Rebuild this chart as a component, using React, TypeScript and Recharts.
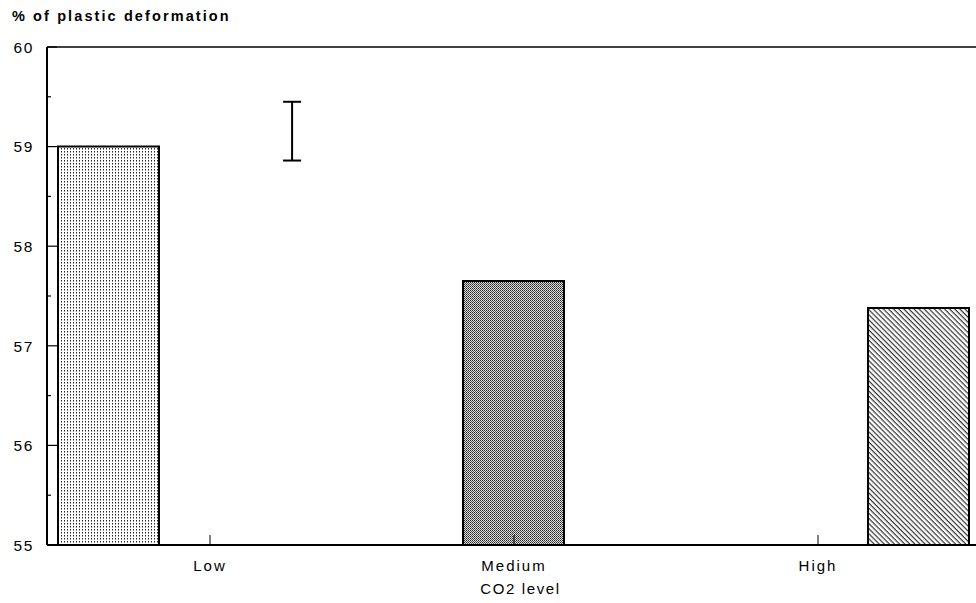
import React from 'react';
import {
  ComposedChart,
  Bar,
  XAxis,
  YAxis,
  Scatter,
  ErrorBar,
  ReferenceLine,
  Label,
} from 'recharts';

// CO2 levels on the category axis
const categories = ['Low', 'Medium', 'High'];
// Mean % of plastic deformation for each CO2 level
const deformation = [59.0, 57.65, 57.38];
// Series keys: each level is drawn in its own slot of the grouped layout
const seriesKeys = ['low', 'medium', 'high'];
const seriesFills = ['url(#dotFill)', 'url(#checkFill)', 'url(#hatchFill)'];

// Y axis: labelled whole values plus unlabelled half-unit minor ticks
const yMajorTicks = [55, 56, 57, 58, 59, 60];
const yMinorTicks = [55.5, 56.5, 57.5, 58.5, 59.5];

// Least-significant-difference bar (centre, half length, position in category units)
const lsdBar = [{ pos: 0.77, mid: 59.155, err: 0.295 }];

const rows = categories.map((level, i) => {
  const row: Record<string, string | number | null> = { level };
  seriesKeys.forEach((k, j) => {
    row[k] = i === j ? deformation[i] : null;
  });
  return row;
});

const yTicks = [...yMajorTicks, ...yMinorTicks].sort((a, b) => a - b);

const FONT = '"Liberation Sans", Arial, Helvetica, sans-serif';

const YTick = (props: any) => {
  const { x, y, payload } = props;
  const major = yMajorTicks.includes(payload.value);
  return (
    <g>
      <line x1={x} y1={y} x2={x + (major ? 10 : 4)} y2={y} stroke="#000" strokeWidth={1.2} />
      {major && (
        <text
          x={x - 13}
          y={y}
          dy="0.37em"
          textAnchor="end"
          fontFamily={FONT}
          fontSize={15.5}
          letterSpacing={1.6}
          fill="#000"
        >
          {payload.value}
        </text>
      )}
    </g>
  );
};

const XTick = (props: any) => {
  const { x, y, payload } = props;
  return (
    <g>
      <line x1={x} y1={y} x2={x} y2={y - 10} stroke="#000" strokeWidth={1} />
      <text
        x={x}
        y={y + 26}
        textAnchor="middle"
        fontFamily={FONT}
        fontSize={15}
        letterSpacing={2}
        fill="#000"
      >
        {payload.value}
      </text>
    </g>
  );
};

const NoPoint = () => <g />;

export default function App() {
  return (
    <div style={{ position: 'absolute', left: 0, top: 0, width: 976, height: 603, background: '#fff' }}>
      <div
        style={{
          position: 'absolute',
          left: 12,
          top: 8,
          fontFamily: FONT,
          fontWeight: 'bold',
          fontSize: 14.5,
          letterSpacing: 2.1,
          color: '#000',
          whiteSpace: 'nowrap',
        }}
      >
        % of plastic deformation
      </div>
      <ComposedChart
        width={976}
        height={603}
        data={rows}
        margin={{ top: 47, right: 0, bottom: 0, left: 0 }}
        barGap={0}
        barCategoryGap={0}
      >
        <defs>
          <pattern id="dotFill" width="3" height="3" patternUnits="userSpaceOnUse">
            <rect width="3" height="3" fill="#fff" />
            <rect x="1" y="1" width="1" height="1.5" fill="#222" />
          </pattern>
          <pattern id="checkFill" width="2" height="2" patternUnits="userSpaceOnUse">
            <rect width="2" height="2" fill="#ddd" />
            <rect x="0" y="0" width="1" height="1" fill="#222" />
            <rect x="1" y="1" width="1" height="1" fill="#555" />
          </pattern>
          <pattern
            id="hatchFill"
            width="4"
            height="3.6"
            patternUnits="userSpaceOnUse"
            patternTransform="rotate(45)"
          >
            <rect width="4" height="3.6" fill="#fff" />
            <rect x="0" y="0" width="4" height="1.2" fill="#333" />
          </pattern>
        </defs>
        <XAxis
          dataKey="level"
          type="category"
          padding={{ left: 11, right: 6 }}
          height={58}
          tickSize={0}
          tickMargin={0}
          tickLine={false}
          axisLine={{ stroke: '#000', strokeWidth: 2 }}
          tick={<XTick />}
          interval={0}
        >
          <Label
            value="CO2 level"
            position="insideBottom"
            offset={9}
            dx={9}
            fontFamily={FONT}
            fontSize={15}
            letterSpacing={1.6}
            fill="#000"
          />
        </XAxis>
        <XAxis
          xAxisId="lsd"
          dataKey="pos"
          type="number"
          domain={[0, 3]}
          allowDataOverflow
          padding={{ left: 11, right: 6 }}
          hide
        />
        <YAxis
          type="number"
          domain={[55, 60]}
          ticks={yTicks}
          allowDataOverflow
          width={47}
          tickSize={0}
          tickMargin={0}
          tickLine={false}
          axisLine={{ stroke: '#000', strokeWidth: 2 }}
          tick={<YTick />}
          interval={0}
        />
        <ReferenceLine y={60} stroke="#000" strokeWidth={1.5} />
        {seriesKeys.map((k, i) => (
          <Bar
            key={k}
            dataKey={k}
            fill={seriesFills[i]}
            stroke="#000"
            strokeWidth={2}
            isAnimationActive={false}
          />
        ))}
        <Scatter
          xAxisId="lsd"
          data={lsdBar}
          dataKey="mid"
          shape={<NoPoint />}
          isAnimationActive={false}
        >
          <ErrorBar dataKey="err" direction="y" width={9} stroke="#000" strokeWidth={2} />
        </Scatter>
      </ComposedChart>
    </div>
  );
}
